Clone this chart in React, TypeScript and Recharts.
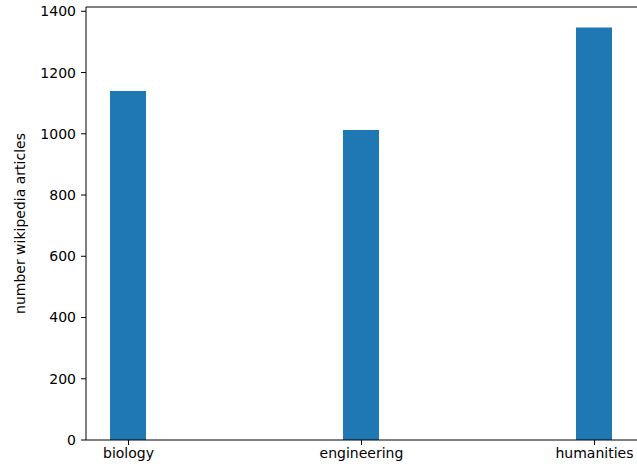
import React from 'react';
import { BarChart, Bar, XAxis, YAxis } from 'recharts';

const categories = ['biology', 'engineering', 'humanities'];
const articleCounts = [1140, 1012, 1347];
const yTicks = [0, 200, 400, 600, 800, 1000, 1200, 1400];

const data = categories.map((name, i) => ({ pos: i, name, count: articleCounts[i] }));

const font = { fontFamily: 'DejaVu Sans', fontSize: 14, fill: '#000' };

const App: React.FC = () => {
  return (
    <div style={{ position: 'absolute', left: 0, top: 0, width: 637, height: 467, background: '#fff' }}>
      <BarChart width={637} height={467} data={data} margin={{ top: 6, right: 0, bottom: 0, left: 0 }}>
        <XAxis
          dataKey="pos"
          type="number"
          domain={[-0.1825, 2.1825]}
          ticks={[0, 1, 2]}
          tickFormatter={(v: number) => categories[v] ?? ''}
          allowDataOverflow
          stroke="#000"
          tickSize={5}
          tickMargin={3}
          tick={font}
          height={27}
        />
        <XAxis xAxisId="top" orientation="top" dataKey="pos" type="number" domain={[-0.1825, 2.1825]} tick={false} tickLine={false} stroke="#000" height={1} />
        <YAxis
          domain={[0, 1414]}
          ticks={yTicks}
          allowDataOverflow
          stroke="#000"
          tickSize={5}
          tickMargin={5}
          tick={font}
          width={86}
          label={{
            content: ({ viewBox }: any) => {
              const cy = viewBox.y + viewBox.height / 2;
              return (
                <text x={20} y={cy} transform={`rotate(-90, 20, ${cy})`} textAnchor="middle" dominantBaseline="central" style={{ fontFamily: 'DejaVu Sans', fontSize: 14, fill: '#000' }}>
                  number wikipedia articles
                </text>
              );
            },
          }}
        />
        <Bar dataKey="count" fill="#1f77b4" barSize={36} isAnimationActive={false} />
      </BarChart>
    </div>
  );
};

export default App;
